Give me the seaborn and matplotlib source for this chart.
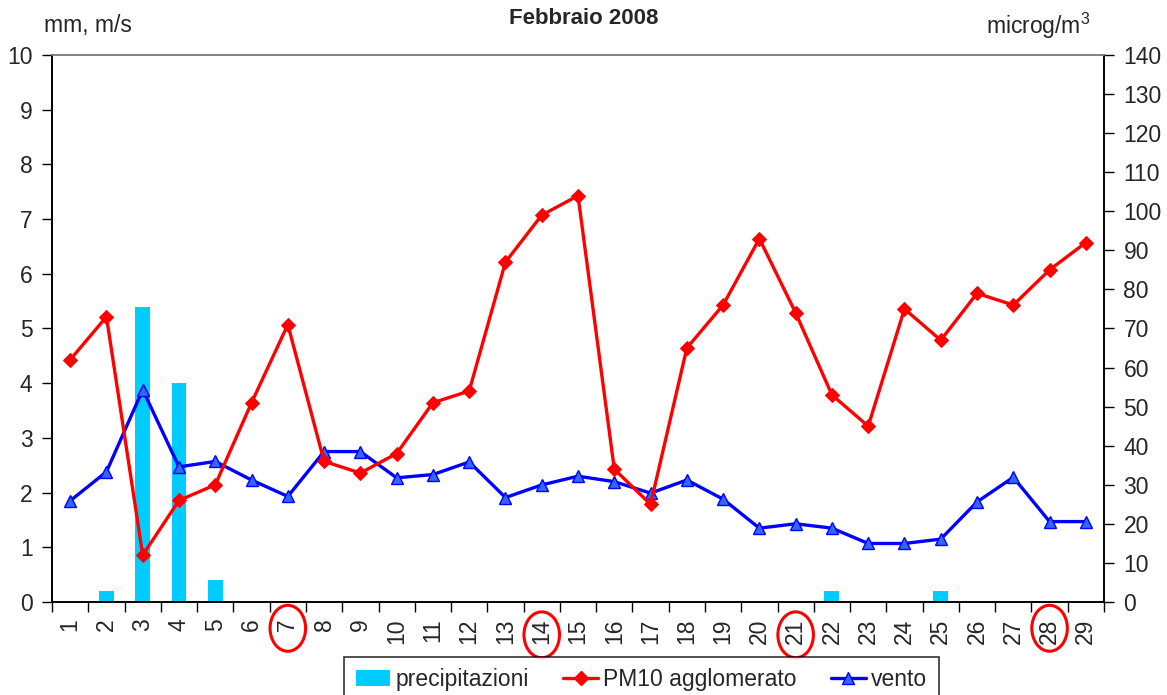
import numpy as np
import matplotlib
matplotlib.use("Agg")
import matplotlib.pyplot as plt
import seaborn as sns
from matplotlib.patches import Ellipse, Patch
from matplotlib.lines import Line2D
from matplotlib.transforms import blended_transform_factory

sns.set_theme(style="ticks")
plt.rcParams['font.family'] = ['Liberation Sans', 'DejaVu Sans']

# dati
giorni = np.arange(1, 30)
precipitazioni = [0, 0.2, 5.4, 4.0, 0.4, 0, 0, 0, 0, 0, 0, 0, 0, 0, 0,
                  0, 0, 0, 0, 0, 0, 0.2, 0, 0, 0.2, 0, 0, 0, 0]
pm10 = [62, 73, 12, 26, 30, 51, 71, 36, 33, 38, 51, 54, 87, 99, 104,
        34, 25, 65, 76, 93, 74, 53, 45, 75, 67, 79, 76, 85, 92]
vento = [1.85, 2.38, 3.88, 2.47, 2.57, 2.23, 1.93, 2.75, 2.75, 2.27, 2.33, 2.56, 1.91, 2.14, 2.30,
         2.20, 1.99, 2.23, 1.88, 1.35, 1.43, 1.35, 1.07, 1.07, 1.15, 1.83, 2.28, 1.47, 1.47]
giorni_evidenziati = [7, 14, 21, 28]  # domeniche cerchiate
cerchi_y = [-0.048, -0.060, -0.060, -0.048]

fs = 16.5

fig = plt.figure(figsize=(11.67, 6.95), dpi=100)
ax = fig.add_axes([0.0446, 0.1338, 0.9014, 0.7871])

# precipitazioni (asse sinistro)
sns.barplot(x=giorni, y=precipitazioni, native_scale=True, width=0.41,
            color='#00CCFF', saturation=1, linewidth=0, ax=ax)
# vento (asse sinistro)
sns.lineplot(x=giorni, y=vento, ax=ax, color='blue', linewidth=2.4,
             marker='^', markersize=8, markerfacecolor='#3366FF',
             markeredgecolor='blue', markeredgewidth=1)

# PM10 (asse destro)
ax2 = ax.twinx()
sns.lineplot(x=giorni, y=pm10, ax=ax2, color='red', linewidth=2.4,
             marker='D', markersize=7, markerfacecolor='red',
             markeredgecolor='red')

ax.set_xlim(0.5, 29.5)
ax.set_ylim(0, 10)
ax2.set_ylim(0, 140)
ax.set_yticks(np.arange(0, 11, 1))
ax2.set_yticks(np.arange(0, 141, 10))
ax.set_xticks(np.arange(0.5, 30, 1))
ax.set_xticklabels([])
ax.set_xticks(giorni, minor=True)
ax.set_xticklabels([str(g) for g in giorni], minor=True, rotation=90)
ax.tick_params(axis='x', which='major', length=7, width=1, color='black')
ax.tick_params(axis='x', which='minor', length=0, pad=12, labelsize=fs)
ax.tick_params(axis='y', length=7, width=1, color='black', labelsize=fs, pad=7)
ax2.tick_params(axis='y', length=7, width=1, color='black', labelsize=fs, pad=7)
ax.set_xlabel("")
ax.set_ylabel("")
ax2.set_ylabel("")

for a in (ax, ax2):
    for s in ['left', 'bottom', 'right']:
        a.spines[s].set_color('black')
        a.spines[s].set_linewidth(1.2)
    a.spines['top'].set_color('#808080')
    a.spines['top'].set_linewidth(1.2)

# cerchi rossi sulle domeniche
trans = blended_transform_factory(ax.transData, ax.transAxes)
for g, cy in zip(giorni_evidenziati, cerchi_y):
    ax.add_patch(Ellipse((g, cy), width=0.98, height=0.084, transform=trans,
                         fill=False, edgecolor='red', linewidth=2.2, clip_on=False))

# testi
fig.text(0.5, 0.9727, "Febbraio 2008", ha='center', va='center',
         fontsize=16, fontweight='bold')
fig.text(0.0377, 0.9626, "mm, m/s", ha='left', va='center', fontsize=fs)
fig.text(0.934, 0.9626, r"microg/m$^\mathregular{3}$", ha='right', va='center', fontsize=fs)

# legenda
handles = [Patch(facecolor='#00CCFF', edgecolor='none'),
           Line2D([], [], color='red', linewidth=2.4, marker='D', markersize=7),
           Line2D([], [], color='blue', linewidth=2.4, marker='^', markersize=8,
                  markerfacecolor='#3366FF', markeredgecolor='blue')]
leg = fig.legend(handles, ["precipitazioni", "PM10 agglomerato", "vento"],
                 loc='upper center', bbox_to_anchor=(0.5497, 0.0547), ncol=3,
                 fontsize=fs, frameon=True, fancybox=False, edgecolor='black',
                 handlelength=1.5, handletextpad=0.24, columnspacing=1.5,
                 borderaxespad=0, borderpad=0.5)
leg.get_frame().set_linewidth(1.2)

fig.savefig("out.png", dpi=100)
